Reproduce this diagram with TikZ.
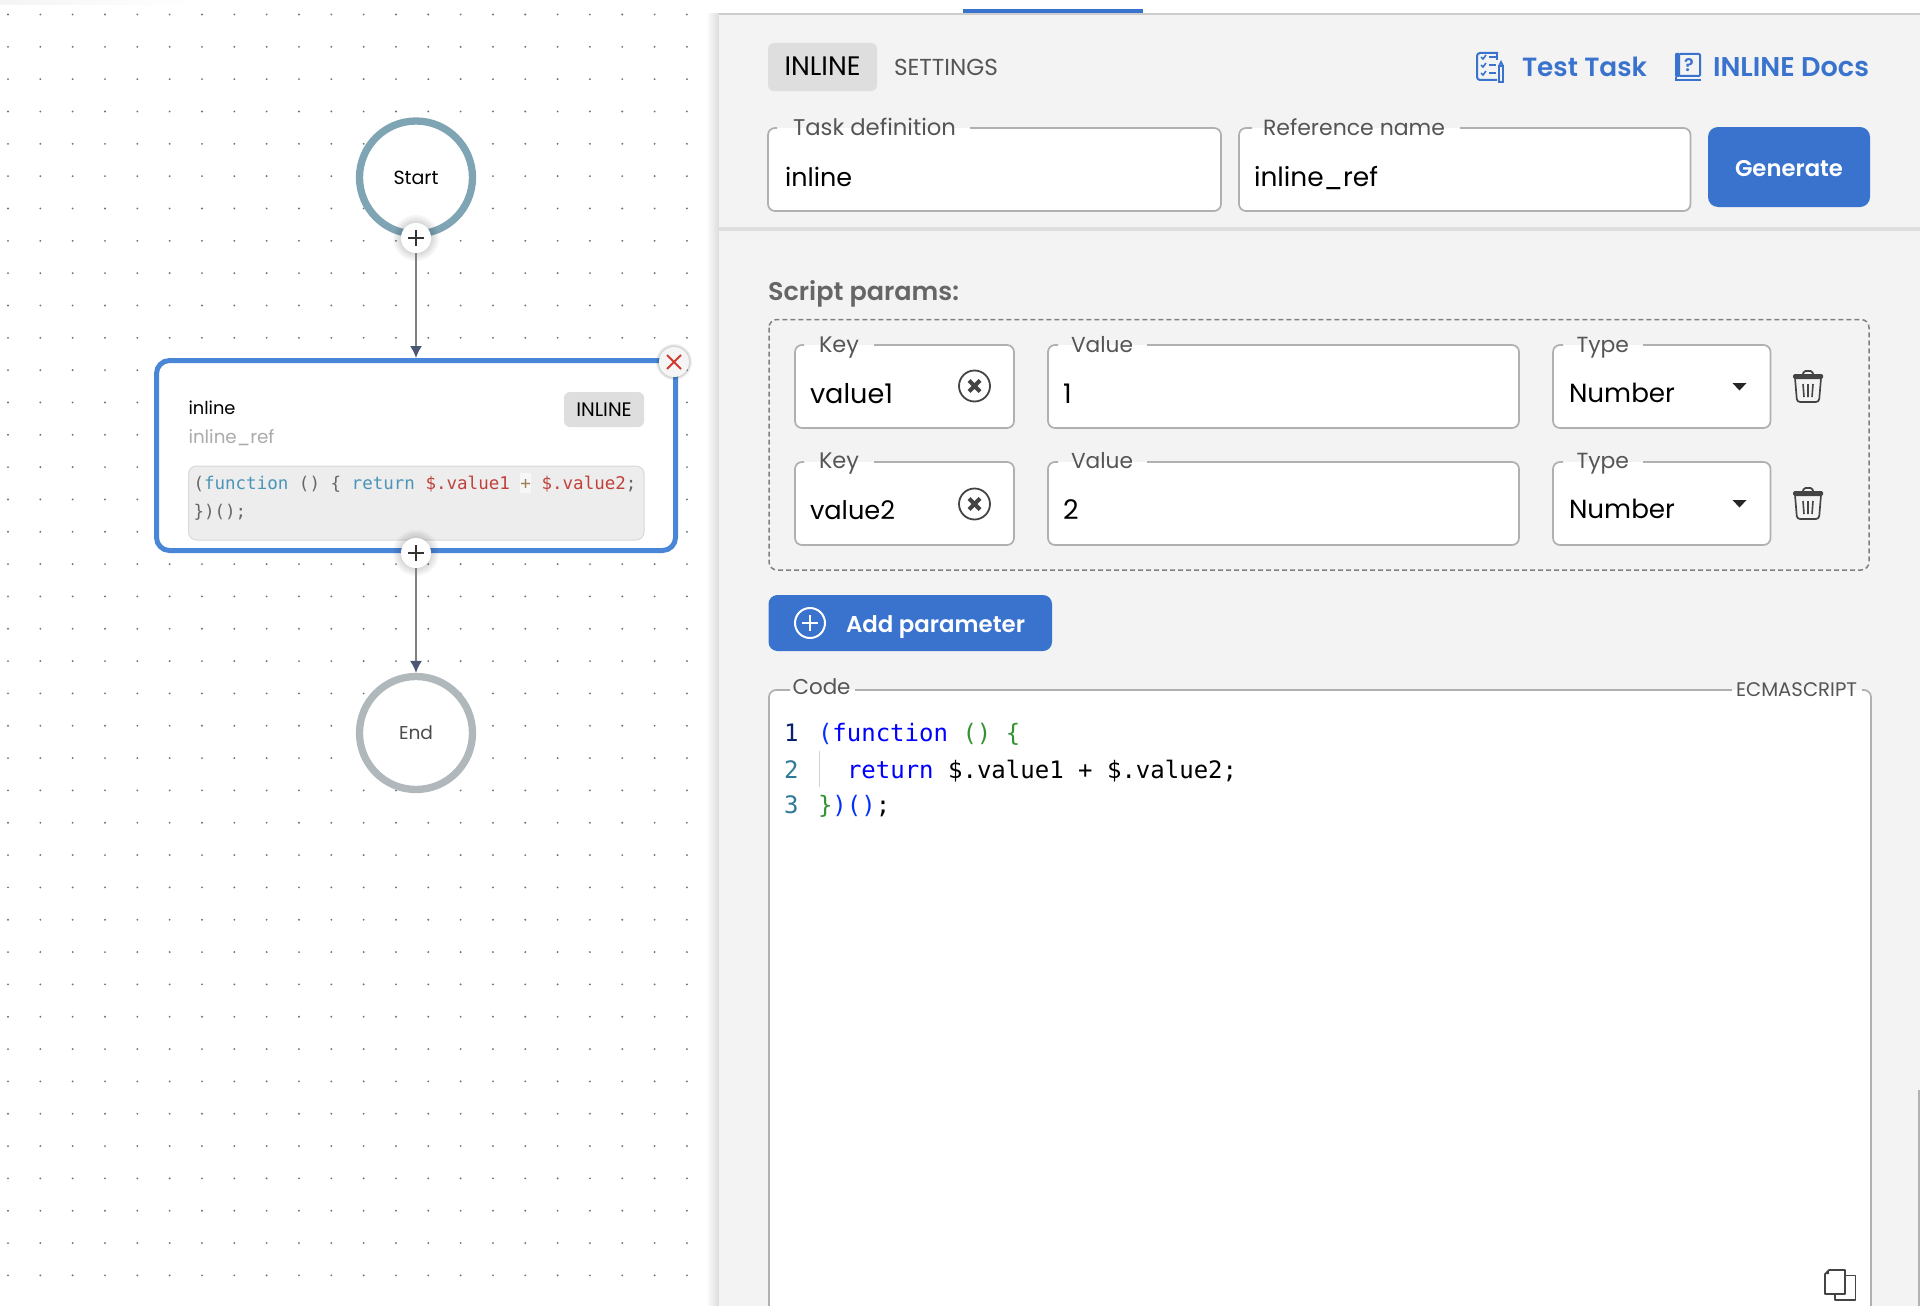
\documentclass[tikz,border=0pt]{standalone}
\usepackage{fontspec}
\usepackage{graphicx}
\usetikzlibrary{arrows.meta,fadings,calc}
\setmainfont{Poppins}
\newfontfamily\semib{Poppins SemiBold}
\newfontfamily\codefont{DejaVu Sans Mono}
\definecolor{panel}{HTML}{F3F3F3}
\definecolor{brand}{HTML}{3973CE}
\definecolor{fieldline}{HTML}{B0B0B0}
\definecolor{labelgray}{HTML}{555555}
\definecolor{darkicon}{HTML}{444444}
\definecolor{flowblue}{HTML}{4A86D8}
\definecolor{arrowhead}{HTML}{4A5672}
\definecolor{kwblue}{HTML}{0000FF}
\definecolor{brblue}{HTML}{0431FA}
\definecolor{brgreen}{HTML}{319331}
\definecolor{lnactive}{HTML}{0B216F}
\definecolor{lnplain}{HTML}{2E7A98}
\definecolor{smkw}{HTML}{4A94B8}
\definecolor{smstr}{HTML}{C0413B}
\definecolor{smpunct}{HTML}{666666}
\definecolor{smplus}{HTML}{A08050}
\definecolor{startring}{HTML}{7FA5B5}
\definecolor{endring}{HTML}{B0B8BC}
\definecolor{closered}{HTML}{D03A2E}
\newcommand\Tw[2]{\resizebox{#1pt}{!}{#2}}
% name, x1, y1, x2, y2, gap start, gap end, label position, label
\newcommand\fieldbox[9]{%
  \fill[white,rounded corners=7pt] (#2,#3) rectangle (#4,#5);
  \draw[fieldline stroke] (#6,#3) -- (#2,#3) -- (#2,#5) -- (#4,#5) -- (#4,#3) -- (#7,#3);
  \node[txt,text=labelgray] (#1) at (#8) {#9};
}
\newcommand\plusnode[3]{%
  \foreach \r in {23,21,19,17}{\fill[black,opacity=.035] (#2,#3) circle[radius=\r pt];}
  \node[plusbtn] (#1) at (#2,#3) {};
  \draw[line width=1.6pt,black!80] ($(#1)+(-8,0)$) -- ($(#1)+(8,0)$) ($(#1)+(0,-8)$) -- ($(#1)+(0,8)$);
}
\newcommand\xicon[3]{%
  \node[xcircle] (#1) at (#2,#3) {};
  \draw[line width=4pt,darkicon] ($(#1)+(-5.5,-5.5)$) -- ($(#1)+(5.5,5.5)$) ($(#1)+(-5.5,5.5)$) -- ($(#1)+(5.5,-5.5)$);
}
\newcommand\caretdown[2]{\fill[black!85] (#1-7,#2-4) -- (#1+7,#2-4) -- (#1,#2+3.5) -- cycle;}
\newcommand\trashcan[2]{%
  \begin{scope}[shift={(#1,#2)}]
    \draw[darkicon,line width=1.8pt,rounded corners=1.5pt] (-5,4) -- (-4,1) -- (4,1) -- (5,4);
    \fill[darkicon,rounded corners=1.5pt] (-15,4) rectangle (15,9);
    \draw[darkicon,line width=1.7pt,rounded corners=3pt] (-13,8) -- (-11,32) -- (11,32) -- (13,8);
    \draw[darkicon,line width=1.6pt] (-5,14) -- (-4,27) (0,14) -- (0,27) (5,14) -- (4,27);
  \end{scope}
}
\tikzset{
  x=1pt,y=-1pt,
  txt/.style={anchor=base west,inner sep=0pt,outer sep=0pt},
  ctxt/.style={anchor=base,inner sep=0pt,outer sep=0pt},
  fieldline stroke/.style={draw=fieldline,line width=1.7pt,rounded corners=7pt},
  plusbtn/.style={circle,fill=white,minimum size=30pt,inner sep=0pt,outer sep=0pt},
  ring/.style={circle,fill=white,minimum size=113pt,line width=7.3pt,inner sep=0pt,outer sep=3.6pt},
  xcircle/.style={circle,draw=darkicon,line width=1.8pt,minimum size=31pt,inner sep=0pt},
  connector/.style={draw=black!50,line width=1.8pt,-{Latex[length=12pt,width=12pt,color=arrowhead]}},
  taskbox/.style={draw=flowblue,fill=white,line width=5pt,rounded corners=13pt,minimum width=519pt,minimum height=190pt,inner sep=0pt,outer sep=2.5pt},
  bigcode/.style={txt,font=\codefont\fontsize{24}{24}\selectfont},
  smallcode/.style={txt,font=\codefont\fontsize{17.52}{18}\selectfont,text=smpunct},
}
\begin{document}
\begin{tikzpicture}
\useasboundingbox (0,0) rectangle (1920,1306);
\fill[white] (0,0) rectangle (1920,1306);
% faint shadow top left
\fill[black!4,path fading=east] (0,0) rectangle (185,5);
% dot grid
\fill[black!55] foreach \i in {0,...,21}{foreach \j in {0,...,40}{(8+32.33*\i,14.5+32.33*\j) circle[radius=1.05pt]}};
% panel
\shade[left color=white,right color=black!14] (706,14) rectangle (719,1306);
\fill[panel] (719,14) rectangle (1920,1306);
\fill[black!20] (719,13) rectangle (1920,15.5);
\fill[brand] (963,9) rectangle (1143,13.5);
\fill[black!13] (719,227) rectangle (1920,231);
\fill[black!30] (1918,1090) rectangle (1920,1306);
% tabs
\fill[black!13,rounded corners=6pt] (768,43) rectangle (877,91);
\node[ctxt] (tabinline) at (822.5,75.5) {\Tw{76}{INLINE}};
\node[txt,text=labelgray] (tabsettings) at (894,75.5) {\Tw{104}{SETTINGS}};
% test task icon
\draw[brand,line width=2pt,rounded corners=3pt] (1498,53) -- (1477,53) -- (1477,80) -- (1497,80);
\draw[brand,line width=2pt] (1497,53) -- (1497,60);
\draw[brand,line width=1.8pt] (1499,66) -- (1503,66) -- (1503,82) -- (1499,82) -- cycle (1499,66) -- (1501,62) -- (1503,66);
\draw[brand,line width=1.6pt] (1481,57) -- (1483,59) -- (1486,55) (1481,65) -- (1483,67) -- (1486,63) (1481,73) -- (1483,75) -- (1486,71);
\draw[brand,line width=2pt] (1489,57) -- (1496,57) (1489,65) -- (1496,65) (1489,73) -- (1496,73);
\node[txt,text=brand] (testtask) at (1522,77) {\Tw{125}{\semib Test Task}};
% docs icon
\draw[brand,line width=2pt,rounded corners=1pt] (1680,54) -- (1700,54) -- (1700,76) -- (1680,76);
\fill[brand,rounded corners=1pt] (1675,53) rectangle (1680,77);
\draw[brand,line width=2pt] (1676,77) -- (1676,80) -- (1701,80);
\node[ctxt,text=brand] (docq) at (1689,71) {\semib\fontsize{18}{18}\selectfont ?};
\node[txt,text=brand] (docs) at (1713,76.5) {\Tw{156}{\semib INLINE Docs}};
% top fields
\fieldbox{lbltask}{768}{128}{1221}{211}{777}{970}{793,135}{\Tw{163}{Task definition}}
\node[txt] (valtask) at (785,186) {\Tw{67}{inline}};
\fieldbox{lblref}{1239}{128}{1690.5}{211}{1252}{1460}{1263,135}{\Tw{182}{Reference name}}
\node[txt] (valref) at (1254,186) {\Tw{124}{inline\_ref}};
\fill[brand,rounded corners=10pt] (1708,127) rectangle (1870,207);
\node[ctxt,text=white] (generate) at (1789,176) {\Tw{108}{\semib Generate}};
% script params
\node[txt,text=black!60] (scriptparams) at (768,300) {\Tw{191}{\semib Script params:}};
\draw[draw=black!50,line width=1.5pt,dash pattern=on 5pt off 3pt,rounded corners=8pt] (769,319.5) rectangle (1869,570);
% row 1
\fieldbox{keyA}{795}{345}{1014}{428}{804}{874}{819,352}{\Tw{40}{Key}}
\node[txt] (keyvalA) at (810,403) {\Tw{83}{value1}};
\xicon{clearA}{974.5}{386}
\fieldbox{valueA}{1048}{345}{1519}{428}{1058}{1147}{1071,352}{\Tw{62}{Value}}
\node[txt,font=\fontsize{27}{27}\selectfont] (valvalA) at (1063,403) {1};
\fieldbox{typeA}{1553}{345}{1770.5}{428}{1563}{1643}{1576.5,352}{\Tw{52.5}{Type}}
\node[txt] (typevalA) at (1569,402) {\Tw{106}{Number}};
\caretdown{1739.5}{387}
\trashcan{1808}{370}
% row 2
\fieldbox{keyB}{795}{462}{1014}{545}{804}{874}{819,468}{\Tw{40}{Key}}
\node[txt] (keyvalB) at (810,519) {\Tw{85}{value2}};
\xicon{clearB}{974.5}{504}
\fieldbox{valueB}{1048}{462}{1519}{545}{1058}{1147}{1071,468}{\Tw{62}{Value}}
\node[txt,font=\fontsize{27}{27}\selectfont] (valvalB) at (1063,519) {2};
\fieldbox{typeB}{1553}{462}{1770.5}{545}{1563}{1643}{1576.5,468}{\Tw{52.5}{Type}}
\node[txt] (typevalB) at (1569,518.5) {\Tw{106}{Number}};
\caretdown{1739.5}{504}
\trashcan{1808}{487}
% add parameter
\fill[brand,rounded corners=9pt] (768.5,595) rectangle (1052,651);
\node[circle,draw=white,line width=2pt,minimum size=30pt,inner sep=0pt] (addicon) at (810,623) {};
\draw[white,line width=2.6pt] ($(addicon)+(-8,0)$) -- ($(addicon)+(8,0)$) ($(addicon)+(0,-8)$) -- ($(addicon)+(0,8)$);
\node[txt,text=white] (addlabel) at (846,632) {\Tw{179}{\semib Add parameter}};
% code box
\fill[white] (769,690) -- (1871,690) -- (1871,1306) -- (769,1306) -- cycle;
\draw[fieldline stroke,line cap=butt] (790,690) -- (769,690) -- (769,1310);
\draw[fieldline stroke] (855,690) -- (1732,690);
\draw[fieldline stroke] (1862,690) -- (1871,690) -- (1871,1310);
\fill[panel] (790,680) rectangle (855,689);
\node[txt,text=labelgray] (codelabel) at (792.5,694.5) {\Tw{58}{Code}};
\node[txt,text=labelgray] (ecma) at (1736,696.5) {\Tw{121}{ECMASCRIPT}};
\fill[black!18] (818.5,751) rectangle (820,787);
\node[bigcode,text=lnactive] (ln1) at (784,741) {1};
\node[bigcode,text=lnplain] (ln2) at (784,778) {2};
\node[bigcode,text=lnplain] (ln3) at (784,813.5) {3};
\node[bigcode] (code1) at (818,741) {\textcolor{brblue}{(}\textcolor{kwblue}{function} \textcolor{brgreen}{() \{}};
\node[bigcode] (code2) at (847,778) {\textcolor{kwblue}{return} \$.value1 + \$.value2;};
\node[bigcode] (code3) at (818,813.5) {\textcolor{brgreen}{\}}\textcolor{brblue}{)()}{;}};
% copy icon
\draw[darkicon,line width=1.7pt,line join=round] (1845,1275.5) -- (1855.5,1275.5) -- (1855.5,1300) -- (1835,1300) -- (1835,1294);
\draw[darkicon,line width=1.7pt,line join=round] (1829,1270) -- (1845,1270) -- (1845,1294) -- (1825,1294) -- (1825,1274) -- cycle;
\fill[darkicon] (1825,1274) -- (1829,1270) -- (1829,1274) -- cycle;
% flow nodes
\node[ring,draw=startring] (start) at (416,177.5) {\raisebox{-1.5pt}{\Tw{45}{Start}}};
\node[ring,draw=endring,text=black!70] (end) at (416,733) {\raisebox{-2pt}{\Tw{34}{End}}};
\node[taskbox] (task) at (416,455.5) {};
\node[txt] (taskname) at (188.5,414) {\Tw{47}{inline}};
\node[txt,text=black!33] (taskref) at (188.5,443) {\Tw{86}{inline\_ref}};
\fill[black!13,rounded corners=6pt] (564,392) rectangle (644,427);
\node[ctxt] (taskbadge) at (604,416) {\Tw{55.5}{INLINE}};
\draw[draw=black!15,fill=black!7,line width=1pt,rounded corners=8pt] (188.5,466) rectangle (644,540);
\fill[black!3] (520,473) rectangle (531,493);
\node[smallcode] (snip1) at (193.5,489) {(\textcolor{smkw}{function} () \{ \textcolor{smkw}{return} \textcolor{smstr}{\$.value1} \textcolor{smplus}{+} \textcolor{smstr}{\$.value2}{;}};
\node[smallcode] (snip2) at (193.5,517) {\})();};
\plusnode{plusA}{416}{238}
\plusnode{plusB}{416}{553}
\draw[connector] (plusA) -- (task);
\draw[connector] (plusB) -- (end);
% close button
\foreach \r in {18,17,16}{\fill[black,opacity=.06] (674,362) circle[radius=\r pt];}
\node[circle,fill=black!4,minimum size=30pt,inner sep=0pt] (closebtn) at (674,362) {};
\draw[closered,line width=1.8pt] ($(closebtn)+(-7,-7)$) -- ($(closebtn)+(7,7)$) ($(closebtn)+(-7,7)$) -- ($(closebtn)+(7,-7)$);
\end{tikzpicture}
\end{document}
